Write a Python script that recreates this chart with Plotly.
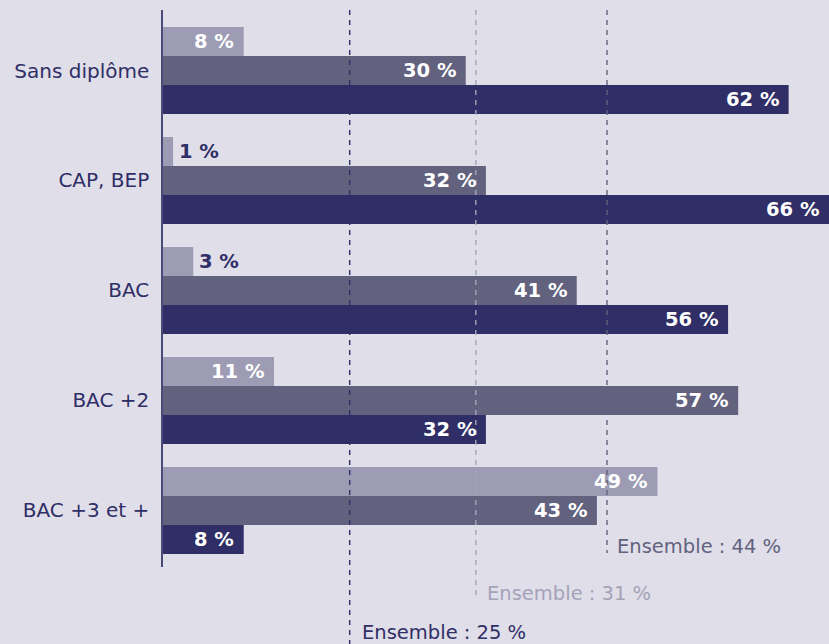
import plotly.graph_objects as go

# ---- data ----
categories = ["Sans diplôme", "CAP, BEP", "BAC", "BAC +2", "BAC +3 et +"]
serie_a = [8, 1, 3, 11, 49]      # light bars
serie_b = [30, 32, 41, 57, 43]   # medium bars
serie_c = [62, 66, 56, 32, 8]    # dark bars
ensemble_values = [25, 31, 44]
ensemble_marks_x = [18.5, 31, 44]   # where each dashed line is drawn in the picture

# ---- style ----
BG = "#e0dee8"
C_LIGHT = "#9d9cb4"
C_MED = "#62627f"
C_DARK = "#2f2e66"
FONT = "DejaVu Sans"
BARGAP = 0.21

series = [serie_a, serie_b, serie_c]
colors = [C_LIGHT, C_MED, C_DARK]
names = ["Série A", "Série B", "Série C"]
ypos = list(range(len(categories)))

fig = go.Figure()
for vals, col, nm in zip(series, colors, names):
    fig.add_trace(go.Bar(
        x=vals, y=ypos, orientation="h", name=nm,
        marker=dict(color=col, line=dict(width=0)),
        hoverinfo="x+name",
    ))

bar_w = (1 - BARGAP) / len(series)
annotations = []
for k, vals in enumerate(series):
    for i, v in enumerate(vals):
        yc = i + (k - 1) * bar_w
        if v < 5:
            annotations.append(dict(
                x=v, y=yc, xref="x", yref="y", text=f"<b>{v} %</b>",
                showarrow=False, xanchor="left", yanchor="middle", xshift=4,
                font=dict(family=FONT, size=19.5, color=C_DARK)))
        else:
            annotations.append(dict(
                x=v, y=yc, xref="x", yref="y", text=f"<b>{v} %</b>",
                showarrow=False, xanchor="right", yanchor="middle", xshift=-8,
                font=dict(family=FONT, size=19.5, color="white")))

# ensemble dashed lines and labels
line_colors = [C_DARK, "#a4a3ba", C_MED]
line_bottoms = [-0.14, -0.059, 0.025]
label_y = [-0.117, -0.0467, 0.0377]
label_shift = [10, 9, 8]
shapes = []
for xv, val, lc, yb, ly, sh in zip(ensemble_marks_x, ensemble_values, line_colors,
                                    line_bottoms, label_y, label_shift):
    shapes.append(dict(type="line", xref="x", yref="paper", x0=xv, x1=xv,
                       y0=1, y1=yb, layer="above",
                       line=dict(color=lc, width=1.4, dash="5px,5px")))
    annotations.append(dict(x=xv, y=ly, xref="x", yref="paper",
                            text=f"Ensemble : {val} %", showarrow=False,
                            xanchor="left", yanchor="middle", xshift=sh,
                            font=dict(family=FONT, size=19.5, color=lc)))

fig.update_layout(
    width=829, height=644,
    margin=dict(l=163, r=0, t=10, b=77),
    paper_bgcolor=BG, plot_bgcolor=BG,
    barmode="group", bargap=BARGAP, bargroupgap=0,
    showlegend=False,
    font=dict(family=FONT, size=19, color=C_DARK),
    shapes=shapes, annotations=annotations,
    xaxis=dict(range=[0, 66], visible=False, showgrid=False, zeroline=False,
               fixedrange=True),
    yaxis=dict(range=[4.514, -0.55], tickmode="array", tickvals=ypos,
               ticktext=categories, showgrid=False, zeroline=False,
               showline=True, linecolor="#4a4a78", linewidth=1.5,
               ticks="outside", ticklen=8, tickcolor="rgba(0,0,0,0)",
               tickfont=dict(family=FONT, size=20, color=C_DARK),
               fixedrange=True),
)

fig.write_html(
    "out.html",
    config={"displayModeBar": False},
    post_script="document.body.style.margin='0';document.body.style.overflow='hidden';"
                "document.body.style.background='" + BG + "';",
)
